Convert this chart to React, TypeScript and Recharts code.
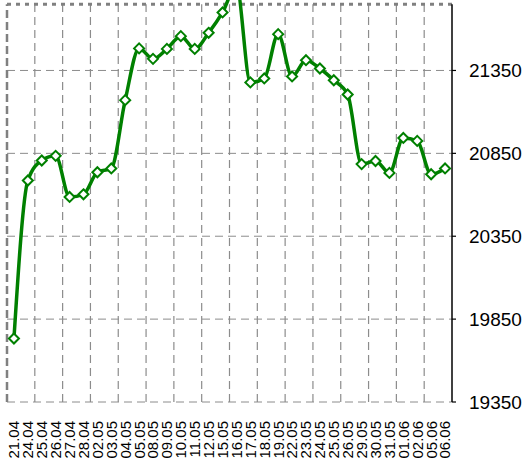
import { LineChart, XAxis, YAxis, CartesianGrid, Line, ReferenceLine } from 'recharts';

// Daily closing values, 21.04 - 06.06
const dates = [
  '21.04', '24.04', '25.04', '26.04', '27.04', '28.04', '02.05', '03.05',
  '04.05', '05.05', '08.05', '09.05', '10.05', '11.05', '12.05', '15.05',
  '16.05', '17.05', '18.05', '19.05', '22.05', '23.05', '24.05', '25.05',
  '26.05', '29.05', '30.05', '31.05', '01.06', '02.06', '05.06', '06.06',
];

const values = [
  19733, 20686, 20807, 20835, 20587, 20603, 20736, 20759,
  21171, 21483, 21420, 21480, 21557, 21480, 21577, 21700,
  21860, 21278, 21302, 21569, 21314, 21412, 21362, 21291,
  21205, 20785, 20804, 20732, 20943, 20925, 20724, 20759,
];

const yTicks = [19350, 19850, 20350, 20850, 21350];
const yMin = 19350;
const yFrame = 21750;
const yTop = 21950;

const data = dates.map((date, i) => ({ i, date, value: values[i] }));
const xTicks = dates.map((_, i) => i);
// vertical dashed grid sits on every second category boundary
const xGrid = dates.map((_, i) => i + 1.5).filter((x) => (x - 1.5) % 2 === 0 && x < dates.length - 1);

const GREEN = '#008000';
const GRID = '#8c8c8c';

const Diamond = (props: any) => {
  const { cx, cy } = props;
  if (cx == null || cy == null) return null;
  const r = 5;
  return (
    <path
      d={`M${cx},${cy - r} L${cx + r},${cy} L${cx},${cy + r} L${cx - r},${cy} Z`}
      fill="#fff"
      stroke={GREEN}
      strokeWidth={2}
    />
  );
};

const DateTick = (props: any) => {
  const { x, payload } = props;
  const y = props.y + 8;
  return (
    <text
      x={x}
      y={y}
      transform={`rotate(-90, ${x}, ${y})`}
      textAnchor="end"
      dy="0.36em"
      fontSize={15}
      fontFamily="Liberation Sans, Arial, sans-serif"
      fill="#000"
    >
      {dates[payload.value]}
    </text>
  );
};

const App = () => {
  return (
    <div style={{ position: 'fixed', left: 0, top: 0, width: 529, height: 459, overflow: 'hidden', background: '#fff' }}>
      <div style={{ marginTop: -35 }}>
        <LineChart width={529} height={500} data={data} margin={{ top: 6, right: 5, left: 7, bottom: 3 }}>
          <CartesianGrid vertical={false} stroke={GRID} strokeDasharray="8 5" />
          <XAxis
            dataKey="i"
            type="number"
            domain={[-0.5, dates.length - 0.5]}
            ticks={xTicks}
            interval={0}
            axisLine={false}
            tickLine={false}
            tickSize={0}
            tickMargin={11}
            height={60}
            tick={<DateTick />}
          />
          <YAxis
            orientation="right"
            domain={[yMin, yTop]}
            ticks={yTicks}
            interval={0}
            axisLine={false}
            tickLine={{ stroke: '#000', strokeWidth: 1.2 }}
            tickSize={4}
            tickMargin={13}
            width={72}
            tick={{ fill: '#000', fontSize: 19, fontFamily: 'Liberation Sans, Arial, sans-serif' }}
          />
          {xGrid.map((x) => (
            <ReferenceLine
              key={x}
              segment={[{ x, y: yMin }, { x, y: yFrame }]}
              stroke={GRID}
              strokeDasharray="8 5"
              strokeWidth={1.2}
            />
          ))}
          <ReferenceLine
            segment={[{ x: -0.5, y: yMin }, { x: -0.5, y: yFrame }]}
            stroke="#808080"
            strokeWidth={2.5}
            strokeDasharray="8 4"
          />
          <ReferenceLine
            segment={[{ x: -0.5, y: yFrame }, { x: dates.length - 0.5, y: yFrame }]}
            stroke="#808080"
            strokeWidth={3}
            strokeDasharray="4 5"
          />
          <ReferenceLine
            segment={[{ x: dates.length - 0.5, y: yMin }, { x: dates.length - 0.5, y: yFrame }]}
            stroke="#000"
            strokeWidth={1.5}
          />
          <Line
            type="monotone"
            dataKey="value"
            stroke={GREEN}
            strokeWidth={3.5}
            dot={<Diamond />}
            activeDot={false}
            isAnimationActive={false}
          />
        </LineChart>
      </div>
    </div>
  );
};

export default App;
